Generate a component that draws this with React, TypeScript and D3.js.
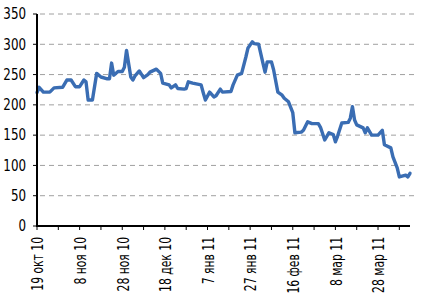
import React from "react";
import * as d3 from "d3";

const dates: string[] = [
  "2010-10-19","2010-10-20","2010-10-22","2010-10-25","2010-10-27","2010-10-31",
  "2010-11-02","2010-11-04","2010-11-06","2010-11-08","2010-11-10","2010-11-11",
  "2010-11-12","2010-11-14","2010-11-16","2010-11-18","2010-11-21","2010-11-22",
  "2010-11-23","2010-11-24","2010-11-26","2010-11-28","2010-11-29","2010-11-30",
  "2010-12-02","2010-12-03","2010-12-04","2010-12-06","2010-12-08","2010-12-10",
  "2010-12-11","2010-12-14","2010-12-16","2010-12-17","2010-12-20","2010-12-21",
  "2010-12-23","2010-12-24","2010-12-27","2010-12-28","2010-12-29","2010-12-31",
  "2011-01-04","2011-01-05","2011-01-06","2011-01-08","2011-01-10","2011-01-11",
  "2011-01-13","2011-01-14","2011-01-18","2011-01-19","2011-01-21","2011-01-23",
  "2011-01-25","2011-01-26","2011-01-28","2011-01-29","2011-01-31","2011-02-02",
  "2011-02-03","2011-02-04","2011-02-06","2011-02-07","2011-02-09","2011-02-11",
  "2011-02-12","2011-02-14","2011-02-16","2011-02-17","2011-02-20","2011-02-21",
  "2011-02-23","2011-02-25","2011-02-28","2011-03-01","2011-03-03","2011-03-05",
  "2011-03-07","2011-03-08","2011-03-09","2011-03-11","2011-03-14","2011-03-15",
  "2011-03-16","2011-03-17","2011-03-18","2011-03-21","2011-03-22","2011-03-23",
  "2011-03-25","2011-03-28","2011-03-30","2011-03-31","2011-04-03","2011-04-04",
  "2011-04-06","2011-04-07","2011-04-10","2011-04-11","2011-04-12",
];

const values: number[] = [
  220,229,221,221,228,229,
  241,241,230,230,241,238,
  208,208,252,246,243,243,
  269,249,255,255,262,290,
  246,241,248,256,245,250,
  254,259,252,236,233,228,
  233,227,226,227,238,236,
  233,220,208,221,213,215,
  226,221,222,233,249,252,
  279,294,304,301,300,269,
  254,271,271,258,221,216,
  211,205,187,154,155,158,
  172,169,169,163,142,154,
  151,139,148,170,171,178,
  197,175,167,162,154,162,
  150,150,158,134,129,114,
  96,81,84,81,87,
];

const yTicks: number[] = [0, 50, 100, 150, 200, 250, 300, 350];
const monthNames: string[] = ["янв","фев","мар","апр","май","июн","июл","авг","сен","окт","ноя","дек"];

const W = 430;
const H = 301;
const FONT = "'Liberation Sans Narrow', 'DejaVu Sans Condensed', 'Arial Narrow', sans-serif";

export default function App() {
  const parse = d3.utcParse("%Y-%m-%d");
  const data = dates.map((d, i) => ({ date: parse(d) as Date, value: values[i] }));
  const start = parse("2010-10-19") as Date;
  const end = parse("2011-04-12") as Date;

  const x = d3.scaleUtc().domain([start, end]).range([37, 410]);
  const y = d3.scaleLinear().domain([0, 350]).range([226, 14]);

  const minorTicks = d3.range(0, 180, 10).map((n) => d3.utcDay.offset(start, n)).filter((d) => d <= end);
  const labelTicks = d3.range(0, 180, 20).map((n) => d3.utcDay.offset(start, n)).filter((d) => d <= end);
  const fmt = (d: Date) =>
    `${d.getUTCDate()} ${monthNames[d.getUTCMonth()]} ${String(d.getUTCFullYear()).slice(2)}`;

  const line = d3
    .line<{ date: Date; value: number }>()
    .x((d) => x(d.date))
    .y((d) => y(d.value));

  return (
    <svg width={W} height={H} style={{ position: "absolute", left: 0, top: 0, background: "#fff" }}>
      {yTicks.filter((t) => t > 0).map((t) => (
        <line key={"g" + t} x1={40} x2={415} y1={y(t)} y2={y(t)} stroke="#a0a0a0" strokeWidth={1} strokeDasharray="5,4" />
      ))}
      <path d={line(data) || ""} fill="none" stroke="#3a6db3" strokeWidth={3.4} strokeLinejoin="round" strokeLinecap="round" />
      {/* y axis */}
      <line x1={37} x2={37} y1={y(350)} y2={227} stroke="#000" strokeWidth={2} />
      {yTicks.map((t) => (
        <g key={"yt" + t}>
          <line x1={33} x2={37} y1={y(t)} y2={y(t)} stroke="#000" strokeWidth={1} />
          <text
            transform={`translate(26,${y(t)}) scale(0.88,1)`}
            dy="0.35em"
            textAnchor="end"
            fontFamily={FONT}
            fontSize={15}
            fill="#000"
          >
            {t}
          </text>
        </g>
      ))}
      {/* x axis */}
      <line x1={36} x2={410} y1={226} y2={226} stroke="#000" strokeWidth={2} />
      {minorTicks.map((d, i) => (
        <line key={"xt" + i} x1={x(d)} x2={x(d)} y1={226} y2={230} stroke="#000" strokeWidth={1} />
      ))}
      {labelTicks.map((d, i) => (
        <text
          key={"xl" + i}
          transform={`translate(${x(d) + 1},237) rotate(-90) scale(0.8,1)`}
          dy="0.35em"
          textAnchor="end"
          fontFamily={FONT}
          fontSize={15}
          fill="#000"
        >
          {fmt(d)}
        </text>
      ))}
    </svg>
  );
}
